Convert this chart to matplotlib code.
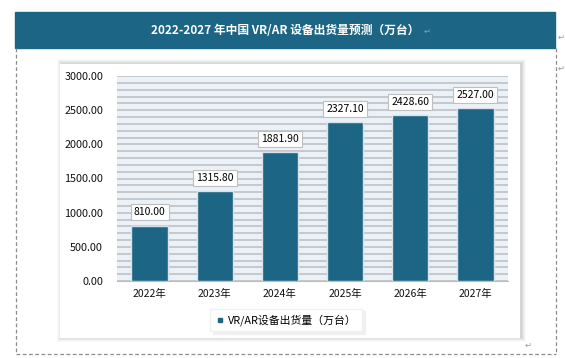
import numpy as np
import matplotlib.pyplot as plt
from matplotlib.patches import Rectangle
from matplotlib.lines import Line2D

plt.rcParams['font.family'] = ['Noto Sans CJK SC', 'DejaVu Sans']

# data
years = ['2022年', '2023年', '2024年', '2025年', '2026年', '2027年']
shipments = [810.00, 1315.80, 1881.90, 2327.10, 2428.60, 2527.00]
series_name = 'VR/AR设备出货量（万台）'
title = '2022-2027 年中国 VR/AR 设备出货量预测（万台）'

W, H = 565, 358
teal = '#1c6584'

fig = plt.figure(figsize=(W / 100, H / 100), dpi=100)

def fx(px):
    return px / W

def fy(py):
    return 1 - py / H

# header band
fig.patches.append(Rectangle((fx(15), fy(48)), fx(555) - fx(15), fy(12) - fy(48),
                             transform=fig.transFigure, color=teal, zorder=0))
fig.text(fx(285), fy(30), title, color='white', fontsize=8.5, fontweight='bold',
         ha='center', va='center')

# dashed page border
for xs, ys in [([16, 16], [48, 354]), ([556, 556], [48, 354]), ([16, 556], [354, 354])]:
    fig.lines.append(Line2D([fx(x) for x in xs], [fy(y) for y in ys], transform=fig.transFigure,
                            color='#8c8c8c', lw=0.9, ls=(0, (3, 2))))

# paragraph marks
for x, y in [(427, 31), (561, 37), (561, 68), (528, 345)]:
    fig.text(fx(x), fy(y), '↵', color='#9a9a9a', fontsize=6, ha='center', va='center',
             family='DejaVu Sans')

# chart box with a soft shadow
for i, a in enumerate([0.02, 0.03, 0.04, 0.05, 0.06]):
    off = 5 - i
    fig.patches.append(Rectangle((fx(60 - off + 2), fy(337 + off)), fx(459 + 2 * off), fy(64 - off) - fy(337 + off),
                                 transform=fig.transFigure, color='black', alpha=a, lw=0, zorder=0))
fig.patches.append(Rectangle((fx(60), fy(337)), fx(459), fy(64) - fy(337),
                             transform=fig.transFigure, color='white', zorder=0))

ax = fig.add_axes([fx(117), fy(281), fx(508) - fx(117), fy(76) - fy(281)])
ax.set_zorder(2)
ax.set_facecolor('#eaf1f8')
x = np.arange(len(years))
bars = ax.bar(x, shipments, width=0.56, color=teal, edgecolor='#d9e2ea', lw=1.0, zorder=3,
              label=series_name)

ax.set_ylim(0, 3000)
ax.set_xlim(-0.5, len(years) - 0.5)
ax.set_yticks(np.arange(0, 3001, 500))
ax.set_yticks(np.arange(0, 3001, 100), minor=True)
ax.set_yticklabels([f'{v:.2f}' for v in np.arange(0, 3001, 500)])
ax.set_xticks(x)
ax.set_xticklabels(years)
ax.grid(True, axis='y', which='both', color='#bcbcbc', lw=1.1, zorder=1)
ax.tick_params(axis='both', which='both', length=0, labelsize=7.5, colors='#111111')
ax.tick_params(axis='y', pad=10, labelsize=7.8)
ax.tick_params(axis='x', pad=6)
for s in ['top', 'right', 'left']:
    ax.spines[s].set_visible(False)
ax.spines['bottom'].set_color('#bcbcbc')

for b, v in zip(bars, shipments):
    ax.annotate(f'{v:.2f}', (b.get_x() + b.get_width() / 2, v), xytext=(0, 6),
                textcoords='offset points', ha='center', va='bottom', fontsize=7.5,
                bbox=dict(boxstyle='square,pad=0.3', fc='white', ec='#bfbfbf', lw=0.8),
                zorder=5)

handle = Line2D([], [], marker='s', color=teal, ls='none', markersize=3.5)
ax.legend([handle], [series_name], loc='center', bbox_to_anchor=(fx(286), fy(320)),
          bbox_transform=fig.transFigure, fontsize=7.8, frameon=True, fancybox=False,
          edgecolor='#f0f0f0', shadow={'color': '#eeeeee', 'alpha': 0.8},
          handlelength=0.8, handletextpad=0.3, borderpad=0.5)

fig.savefig('out.png', dpi=100)
